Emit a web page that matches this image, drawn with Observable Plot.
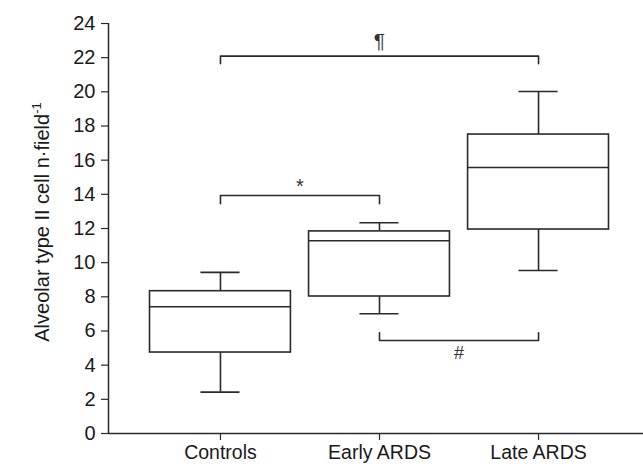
<!DOCTYPE html>
<html><head><meta charset="utf-8">
<script src="https://cdn.jsdelivr.net/npm/d3@7"></script>
<script src="https://cdn.jsdelivr.net/npm/@observablehq/plot@0.6"></script>
<style>body{margin:0;background:#fff}</style>
</head><body><div id="chart"></div>
<script>
const categories = ["Controls", "Early ARDS", "Late ARDS"];
const whiskerLow = [2.42, 7.01, 9.54];
const q1 = [4.74, 8.02, 11.94];
const median = [7.42, 11.28, 15.57];
const q3 = [8.33, 11.83, 17.5];
const whiskerHigh = [9.43, 12.34, 20.02];
const yTicks = [0, 2, 4, 6, 8, 10, 12, 14, 16, 18, 20, 22, 24];
// significance brackets: from group, to group, bar level, end level, symbol, symbol level
const bracketFrom = [0, 1, 0];
const bracketTo = [1, 2, 2];
const bracketLevel = [13.93, 5.44, 22.09];
const bracketEnd = [13.45, 5.9, 21.65];
const bracketSymbol = ["*", "#", "¶"];
const symbolLevel = [14.45, 4.7, 22.95];

const FONT = "'Liberation Sans', Arial, Helvetica, sans-serif";
const INK = "#2a2a2a";
const idx = categories.map((_, i) => i);
const boxes = idx.map(i => ({i, lo: whiskerLow[i], q1: q1[i], med: median[i], q3: q3[i], hi: whiskerHigh[i]}));
const boxHalf = 0.443, capHalf = 0.123;
const xDomain = [-0.704, 2.66];
const bracketPts = [];
const symbols = [];
bracketFrom.forEach((f, k) => {
  const t = bracketTo[k];
  bracketPts.push({k, x: f, y: bracketEnd[k]}, {k, x: f, y: bracketLevel[k]}, {k, x: t, y: bracketLevel[k]}, {k, x: t, y: bracketEnd[k]});
  symbols.push({x: (f + t) / 2, y: symbolLevel[k], s: bracketSymbol[k], size: [20, 18, 21][k]});
});

const chart = Plot.plot({
  width: 643, height: 466,
  marginLeft: 108, marginRight: 0, marginTop: 23, marginBottom: 33,
  x: {domain: xDomain},
  y: {domain: [0, 24]},
  style: {fontFamily: FONT, color: INK, background: "#fff"},
  marks: [
    Plot.ruleX([xDomain[0]], {y1: 0, y2: 24, stroke: INK, strokeWidth: 1.5}),
    Plot.ruleY([0], {stroke: INK, strokeWidth: 1.5}),
    Plot.axisY({ticks: yTicks, tickSize: 7, tickPadding: 6, fontSize: 20, label: null, stroke: INK, strokeWidth: 1.2, fill: "#1a1a1a"}),
    Plot.axisX({ticks: idx, tickFormat: i => categories[i], tickSize: 7, tickPadding: 5, fontSize: 19.5, label: null, stroke: INK, strokeWidth: 1.2, fill: "#1a1a1a"}),
    Plot.ruleX(boxes, {x: "i", y1: "q3", y2: "hi", stroke: INK, strokeWidth: 1.6}),
    Plot.ruleX(boxes, {x: "i", y1: "lo", y2: "q1", stroke: INK, strokeWidth: 1.6}),
    Plot.ruleY(boxes, {y: "hi", x1: d => d.i - capHalf, x2: d => d.i + capHalf, stroke: INK, strokeWidth: 1.6}),
    Plot.ruleY(boxes, {y: "lo", x1: d => d.i - capHalf, x2: d => d.i + capHalf, stroke: INK, strokeWidth: 1.6}),
    Plot.rectY(boxes, {x1: d => d.i - boxHalf, x2: d => d.i + boxHalf, y1: "q1", y2: "q3", fill: "white", stroke: INK, strokeWidth: 1.6}),
    Plot.ruleY(boxes, {y: "med", x1: d => d.i - boxHalf, x2: d => d.i + boxHalf, stroke: INK, strokeWidth: 1.6}),
    Plot.line(bracketPts, {x: "x", y: "y", z: "k", stroke: INK, strokeWidth: 1.6}),
    Plot.text(symbols, {x: "x", y: "y", text: "s", fontSize: "size", fill: "#333", lineAnchor: "middle"})
  ]
});
document.getElementById("chart").append(chart);

const svg = d3.select(chart);
const lab = svg.append("text")
  .attr("transform", "translate(49,222) rotate(-90)")
  .attr("text-anchor", "middle")
  .attr("font-family", FONT)
  .attr("font-size", 20)
  .attr("fill", "#1a1a1a");
lab.append("tspan").text("Alveolar type II cell n·field");
lab.append("tspan").attr("font-size", 13).attr("dy", -8).text("-1");
</script>
</body></html>
